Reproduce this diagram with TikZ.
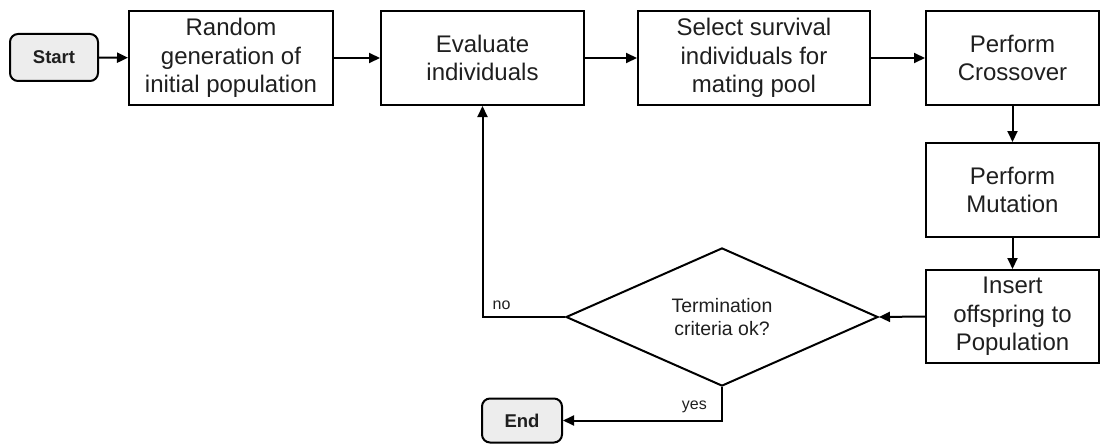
\documentclass[tikz,border=0pt]{standalone}
\usepackage{fontspec}
\setmainfont{Liberation Sans}
\usetikzlibrary{shapes.geometric,arrows.meta}
\begin{document}
\begin{tikzpicture}[x=1pt,y=-1pt,
  every node/.style={text=black!88},
  procbox/.style={draw=black, line width=2pt, align=center, inner sep=0pt,
    minimum height=94pt, font=\fontsize{24}{28.5}\selectfont},
  termbox/.style={draw=black, line width=2pt, rounded corners=8pt, fill=black!7,
    inner sep=0pt, font=\bfseries\fontsize{18.5}{22}\selectfont},
  decision/.style={draw=black, diamond, line width=2pt, inner sep=0pt,
    minimum width=312pt, minimum height=122pt, align=center,
    font=\fontsize{19.5}{23}\selectfont},
  flow/.style={line width=2pt, -{Triangle[length=11pt,width=10pt]}},
  tag/.style={font=\fontsize{16}{19}\selectfont, inner sep=0pt}
]
\useasboundingbox (0,0) rectangle (1101,444);

% terminals
\node[termbox, minimum width=88pt, minimum height=47pt] (start) at (54,57.5) {Start};
\node[termbox, minimum width=80pt, minimum height=44pt] (end) at (522,420.5) {End};

% process steps, top row
\node[procbox, minimum width=204pt] (rand) at (231,58) {Random\\generation of\\initial population};
\node[procbox, minimum width=203pt] (eval) at (482.5,58) {Evaluate\\individuals};
\node[procbox, minimum width=232pt] (select) at (754,58) {Select survival\\individuals for\\mating pool};
\node[procbox, minimum width=173pt] (cross) at (1012.5,58) {Perform\\Crossover};

% process steps, right column
\node[procbox, minimum width=173pt] (mut) at (1012.5,190) {Perform\\Mutation};
\node[procbox, minimum width=173pt, minimum height=93pt] (ins) at (1012.5,316.5) {Insert\\offspring to\\Population};

% termination test
\node[decision] (dia) at (722,317) {Termination\\criteria ok?};

% main flow
\draw[flow] (start) -- (rand);
\draw[flow] (rand) -- (eval);
\draw[flow] (eval) -- (select);
\draw[flow] (select) -- (cross);
\draw[flow] (cross) -- (mut);
\draw[flow] (mut) -- (ins);
\draw[flow] (ins.west) -- (dia.east);

% loop back when not terminated
\coordinate (nocorner) at (eval.south |- dia.west);
\draw[flow] (dia.west) -- (nocorner) -- (eval.south);
\node[tag, anchor=south west] at ([xshift=10pt,yshift=7pt]nocorner) {no};

% finish when terminated
\coordinate (yescorner) at (dia.south |- end.east);
\draw[flow] (dia.south) -- (yescorner) -- (end.east);
\node[tag, anchor=south east] at ([xshift=-15pt,yshift=7pt]yescorner) {yes};
\end{tikzpicture}
\end{document}
